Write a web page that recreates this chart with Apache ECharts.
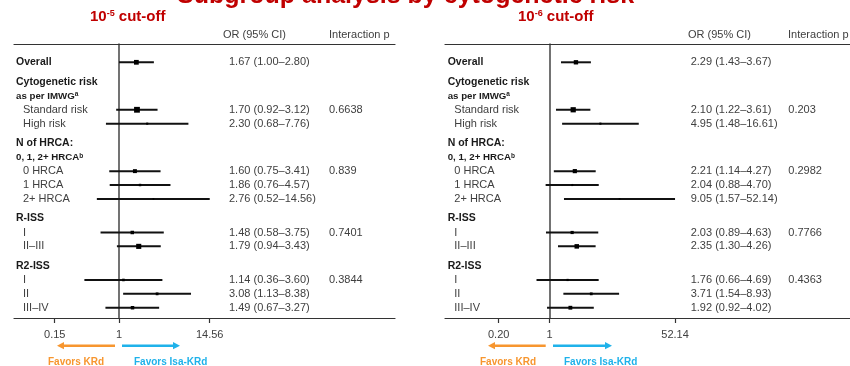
<!DOCTYPE html>
<html>
<head>
<meta charset="utf-8">
<script src="https://cdn.jsdelivr.net/npm/echarts@6/dist/echarts.min.js"></script>
<style>
html,body{margin:0;padding:0;background:#fff;}
#chart{width:850px;height:366px;}
</style>
</head>
<body>
<div id="chart"></div>
<script>
// ---------- DATA ----------
const rowLabels = ['Overall','Cytogenetic risk','as per IMWG','Standard risk','High risk','N of HRCA:','0, 1, 2+ HRCA','0 HRCA','1 HRCA','2+ HRCA','R-ISS','I','II\u2013III','R2-ISS','I','II','III\u2013IV'];
const rowKinds  = ['group','head','sub','item','item','head','sub','item','item','item','head','item','item','head','item','item','item'];
const rowSup    = ['','','a','','','','b','','','','','','','','','',''];

const leftOR  = [1.67,null,null,1.70,2.30,null,null,1.60,1.86,2.76,null,1.48,1.79,null,1.14,3.08,1.49];
const leftLo  = [1.00,null,null,0.92,0.68,null,null,0.75,0.76,0.52,null,0.58,0.94,null,0.36,1.13,0.67];
const leftHi  = [2.80,null,null,3.12,7.76,null,null,3.41,4.57,14.56,null,3.75,3.43,null,3.60,8.38,3.27];
const leftP   = ['','','','0.6638','','','','0.839','','','','0.7401','','','0.3844','',''];
const leftWeight = [0.82,null,null,1.0,0.36,null,null,0.68,0.42,0.28,null,0.6,0.88,null,0.44,0.48,0.6];

const rightOR = [2.29,null,null,2.10,4.95,null,null,2.21,2.04,9.05,null,2.03,2.35,null,1.76,3.71,1.92];
const rightLo = [1.43,null,null,1.22,1.48,null,null,1.14,0.88,1.57,null,0.89,1.30,null,0.66,1.54,0.92];
const rightHi = [3.67,null,null,3.61,16.61,null,null,4.27,4.70,52.14,null,4.63,4.26,null,4.69,8.93,4.02];
const rightP  = ['','','','0.203','','','','0.2982','','','','0.7766','','','0.4363','',''];
const rightWeight = [0.75,null,null,0.9,0.36,null,null,0.72,0.36,0.28,null,0.55,0.78,null,0.38,0.48,0.66];

const leftTicks  = ['0.15','1','14.56'];
const rightTicks = ['0.20','1','52.14'];

const panelTitles = ['10{sup|-5} cut-off','10{sup|-6} cut-off'];
const mainTitle = 'Subgroup analysis by cytogenetic risk';

// ---------- LAYOUT ----------
const FONT = '"Liberation Sans", Arial, sans-serif';
const RED = '#C00000';
const ORANGE = '#F7962F';
const BLUE = '#1FB2EA';
const SQ = 5.8;

// row positions (unit rows, extra gap before section headers)
const rowPos = [];
(function(){ let p = 0; rowKinds.forEach((k,i)=>{ if(i>0){ p += 1 + (k==='head'?0.42:0);} rowPos.push(p); }); })();

const lg = v => Math.log10(v);

function ciData(OR, LO, HI, W){
  const d = [];
  OR.forEach((v,i)=>{ if(v!=null) d.push([lg(v), lg(LO[i]), lg(HI[i]), rowPos[i], W[i]]); });
  return d;
}
function textData(){ return rowLabels.map((l,i)=>[0, rowPos[i], i]); }

function ciRender(params, api){
  const y = api.value(3);
  const pL = api.coord([api.value(1), y]);
  const pH = api.coord([api.value(2), y]);
  const pC = api.coord([api.value(0), y]);
  const s = Math.max(1.5, api.value(4) * SQ);
  return {type:'group', children:[
    {type:'line', shape:{x1:pL[0], y1:pL[1], x2:pH[0], y2:pH[1]}, style:{stroke:'#111', lineWidth:2}},
    {type:'rect', shape:{x:pC[0]-s/2, y:pC[1]-s/2, width:s, height:s}, style:{fill:'#000'}}
  ]};
}

function makeTextRender(cfg){
  return function(params, api){
    const y = api.coord([0, api.value(1)])[1];
    const i = api.value(2);
    const k = rowKinds[i];
    const children = [];
    const base = {align:'left', verticalAlign:'middle', textAlign:'left', textVerticalAlign:'middle', fontFamily: FONT};
    let style;
    if(k==='item'){
      style = Object.assign({}, base, {text: rowLabels[i], fill:'#404040', fontSize:11});
      children.push({type:'text', x: cfg.itemX, y: y, style: style});
    } else {
      const fs = k==='sub' ? 9.7 : 10.5;
      const txt = rowLabels[i] + (rowSup[i] ? '{sup|' + rowSup[i] + '}' : '');
      style = Object.assign({}, base, {text: txt, fill:'#1a1a1a', fontSize: fs, fontWeight:'bold',
        rich:{sup:{fontSize:6.5, fontWeight:'bold', fill:'#1a1a1a', fontFamily:FONT, verticalAlign:'top'}}});
      children.push({type:'text', x: cfg.headX, y: y, style: style});
    }
    if(cfg.OR[i]!=null){
      const t = cfg.OR[i].toFixed(2) + ' (' + cfg.LO[i].toFixed(2) + '\u2013' + cfg.HI[i].toFixed(2) + ')';
      children.push({type:'text', x: cfg.orX, y: y, style: Object.assign({}, base, {text:t, fill:'#404040', fontSize:11})});
    }
    if(cfg.P[i]){
      children.push({type:'text', x: cfg.pX, y: y, style: Object.assign({}, base, {text:cfg.P[i], fill:'#404040', fontSize:11})});
    }
    return {type:'group', children: children};
  };
}

function tickFormatter(ticks){
  const vals = ticks.map(t=>lg(parseFloat(t)));
  return function(v){
    let best = 0, bd = Infinity;
    vals.forEach((x,j)=>{ const d=Math.abs(x-v); if(d<bd){bd=d;best=j;} });
    return ticks[best];
  };
}

function xAxes(grid, min, max, ticks){
  const vals = ticks.map(t=>lg(parseFloat(t)));
  return [
    {gridIndex:grid, type:'value', min:min, max:max, position:'bottom',
     axisLine:{show:true, onZero:false, lineStyle:{color:'#333', width:1.2}},
     axisTick:{show:true, customValues: vals, length:5, inside:false, lineStyle:{color:'#333', width:1.2}},
     axisLabel:{show:true, customValues: vals, formatter: tickFormatter(ticks), margin:11, color:'#404040', fontSize:11, fontFamily:FONT},
     splitLine:{show:false}},
    {gridIndex:grid, type:'value', min:min, max:max, position:'top',
     axisLine:{show:true, onZero:false, lineStyle:{color:'#333', width:1.2}},
     axisTick:{show:false}, axisLabel:{show:false}, splitLine:{show:false}}
  ];
}
function yAxis(grid){
  return {gridIndex:grid, type:'value', inverse:true, min:-1.318, max:18.42,
    axisLine:{show:true, onZero:true, lineStyle:{color:'#5a5a5a', width:1.7}},
    axisTick:{show:false}, axisLabel:{show:false}, splitLine:{show:false}};
}

function arrow(xTail, xHead, y, color){
  const dir = xHead > xTail ? 1 : -1;
  const hl = 7, hw = 3.6;
  return {type:'group', silent:true, children:[
    {type:'line', shape:{x1:xTail, y1:y, x2:xHead - dir*hl*0.6, y2:y}, style:{stroke:color, lineWidth:2.6}},
    {type:'polygon', shape:{points:[[xHead,y],[xHead-dir*hl,y-hw],[xHead-dir*hl,y+hw]]}, style:{fill:color}}
  ]};
}
function gtext(x, y, text, opts){
  return {type:'text', x:x, y:y, silent:true, style:Object.assign({text:text, align:'left', verticalAlign:'middle', textAlign:'left', textVerticalAlign:'middle', fontFamily:FONT}, opts)};
}

const chart = echarts.init(document.getElementById('chart'), null, {renderer:'canvas'});
const supRich = {sup:{fontSize:9, fontWeight:'bold', fill:RED, fontFamily:FONT, verticalAlign:'top'}};

const option = {
  backgroundColor:'#fff',
  animation:false,
  grid:[
    {left:14, right:455, top:44, bottom:48},
    {left:445, right:0, top:44, bottom:48}
  ],
  xAxis: [].concat(xAxes(0, -1.3462, 3.5385, leftTicks), xAxes(1, -1.434, 4.114, rightTicks)),
  yAxis: [yAxis(0), yAxis(1)],
  series:[
    {type:'custom', xAxisIndex:0, yAxisIndex:0, clip:false, renderItem:ciRender, data:ciData(leftOR,leftLo,leftHi,leftWeight), encode:{x:[0,1,2], y:3}},
    {type:'custom', xAxisIndex:0, yAxisIndex:0, clip:false, renderItem:makeTextRender({headX:16, itemX:23, orX:229, pX:329, OR:leftOR, LO:leftLo, HI:leftHi, P:leftP}), data:textData(), encode:{x:0, y:1}},
    {type:'custom', xAxisIndex:2, yAxisIndex:1, clip:false, renderItem:ciRender, data:ciData(rightOR,rightLo,rightHi,rightWeight), encode:{x:[0,1,2], y:3}},
    {type:'custom', xAxisIndex:2, yAxisIndex:1, clip:false, renderItem:makeTextRender({headX:447.7, itemX:454.3, orX:690.7, pX:788.3, OR:rightOR, LO:rightLo, HI:rightHi, P:rightP}), data:textData(), encode:{x:0, y:1}}
  ],
  graphic:[
    gtext(177, -4, mainTitle, {fill:RED, fontSize:25, fontWeight:'bold'}),
    gtext(90, 17, panelTitles[0], {fill:RED, fontSize:15, fontWeight:'bold', rich:supRich}),
    gtext(518, 17, panelTitles[1], {fill:RED, fontSize:15, fontWeight:'bold', rich:supRich}),
    gtext(223, 35, 'OR (95% CI)', {fill:'#404040', fontSize:11}),
    gtext(329, 35, 'Interaction p', {fill:'#404040', fontSize:11}),
    gtext(688, 35, 'OR (95% CI)', {fill:'#404040', fontSize:11}),
    gtext(788, 35, 'Interaction p', {fill:'#404040', fontSize:11}),
    arrow(115, 57, 345.7, ORANGE),
    arrow(122, 180, 345.7, BLUE),
    arrow(545.7, 488, 345.7, ORANGE),
    arrow(553, 612, 345.7, BLUE),
    gtext(48, 362.5, 'Favors KRd', {fill:ORANGE, fontSize:10, fontWeight:'bold'}),
    gtext(134, 362.5, 'Favors Isa-KRd', {fill:BLUE, fontSize:10, fontWeight:'bold'}),
    gtext(480, 362.5, 'Favors KRd', {fill:ORANGE, fontSize:10, fontWeight:'bold'}),
    gtext(564, 362.5, 'Favors Isa-KRd', {fill:BLUE, fontSize:10, fontWeight:'bold'})
  ]
};
chart.setOption(option);
</script>
</body>
</html>
